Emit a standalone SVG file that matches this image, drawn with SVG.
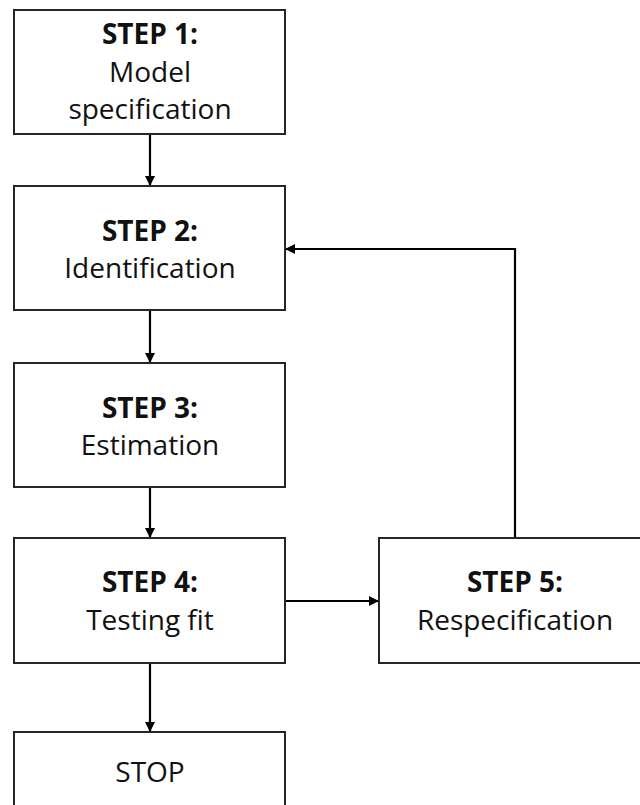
<svg xmlns="http://www.w3.org/2000/svg" width="640" height="805" viewBox="0 0 640 805">
  <defs>
    <marker id="arrow" viewBox="0 0 10 10" refX="10" refY="5" markerWidth="11" markerHeight="10" markerUnits="userSpaceOnUse" orient="auto">
      <path d="M0,0 L10,5 L0,10 z" fill="#000"/>
    </marker>
  </defs>
  <style>
    .box { fill: #fff; stroke: #262626; stroke-width: 2; }
    .t { font-family: "Open Sans", "Noto Sans", "Liberation Sans", sans-serif; font-size: 28px; fill: #111; text-anchor: middle; }
    .b { font-weight: bold; }
    .edge { fill: none; stroke: #000; stroke-width: 2.2; marker-end: url(#arrow); }
  </style>
  <rect width="640" height="805" fill="#fff"/>

  <g id="edges">
    <path class="edge" d="M150,134 V186"/>
    <path class="edge" d="M150,310 V363"/>
    <path class="edge" d="M150,487 V538"/>
    <path class="edge" d="M285,601 H379"/>
    <path class="edge" d="M150,663 V732"/>
    <path class="edge" d="M515,538 V249 H285"/>
  </g>

  <g id="step1">
    <rect class="box" x="14" y="10" width="271" height="124"/>
    <text class="t b" x="150" y="44">STEP 1:</text>
    <text class="t" x="150" y="82">Model</text>
    <text class="t" x="150" y="119">specification</text>
  </g>

  <g id="step2">
    <rect class="box" x="14" y="186" width="271" height="124"/>
    <text class="t b" x="150" y="241">STEP 2:</text>
    <text class="t" x="150" y="278">Identification</text>
  </g>

  <g id="step3">
    <rect class="box" x="14" y="363" width="271" height="124"/>
    <text class="t b" x="150" y="418">STEP 3:</text>
    <text class="t" x="150" y="455">Estimation</text>
  </g>

  <g id="step4">
    <rect class="box" x="14" y="538" width="271" height="125"/>
    <text class="t b" x="150" y="592">STEP 4:</text>
    <text class="t" x="150" y="630">Testing fit</text>
  </g>

  <g id="step5">
    <rect class="box" x="379" y="538" width="271" height="125"/>
    <text class="t b" x="515" y="592">STEP 5:</text>
    <text class="t" x="515" y="630">Respecification</text>
  </g>

  <g id="stop">
    <rect class="box" x="14" y="732" width="271" height="90"/>
    <text class="t" x="150" y="782">STOP</text>
  </g>
</svg>
